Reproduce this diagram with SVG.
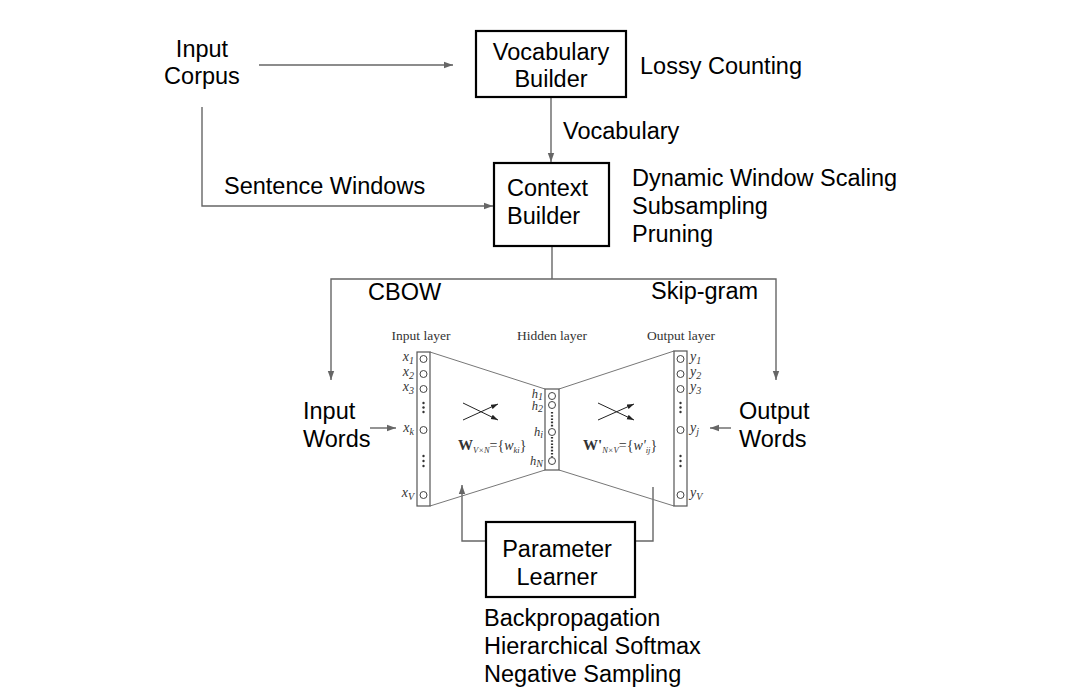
<svg xmlns="http://www.w3.org/2000/svg" width="1071" height="694" viewBox="0 0 1071 694">
<defs>
<marker id="ah" markerWidth="9" markerHeight="8" refX="9" refY="4" orient="auto" markerUnits="userSpaceOnUse"><path d="M0,0.8 L9,4 L0,7.2z" fill="#666"/></marker>
<marker id="ahs" markerWidth="7" markerHeight="6" refX="7" refY="3" orient="auto" markerUnits="userSpaceOnUse"><path d="M0,0.6 L7,3 L0,5.4z" fill="#222"/></marker>
<style>
.t{font-family:"Liberation Sans",Arial,sans-serif;font-size:23.5px;fill:#000}
.c{text-anchor:middle}
.box{fill:#fff;stroke:#000;stroke-width:2.2}
.con{fill:none;stroke:#666;stroke-width:1.4}
.nn{fill:none;stroke:#777;stroke-width:1}
.layer{fill:#fff;stroke:#555;stroke-width:1.2}
.nd{fill:#fff;stroke:#444;stroke-width:1}
.s{font-family:"Liberation Serif","Times New Roman",serif;fill:#333}
.lab{font-size:13.5px}
.v{font-size:14px;font-style:italic}
.hv{font-size:12.5px;font-style:italic}
.sub{font-size:10px}
.dot{fill:#333}
.cross{stroke:#222;stroke-width:1;fill:none}
</style>
</defs>
<rect width="1071" height="694" fill="#fff"/>

<g id="connectors">
<line class="con" x1="259" y1="65" x2="453" y2="65" marker-end="url(#ah)"/>
<line class="con" x1="551" y1="97" x2="551" y2="162" marker-end="url(#ah)"/>
<polyline class="con" points="202,107 202,206 493,206" marker-end="url(#ah)"/>
<line class="con" x1="552" y1="246" x2="552" y2="279"/>
<polyline class="con" points="552,279 331,279 331,380" marker-end="url(#ah)"/>
<polyline class="con" points="552,279 776,279 776,380" marker-end="url(#ah)"/>
<line class="con" x1="370" y1="428" x2="396" y2="428" marker-end="url(#ah)"/>
<line class="con" x1="731" y1="428" x2="710" y2="428" marker-end="url(#ah)"/>
<polyline class="con" points="486,541 462,541 462,485" marker-end="url(#ah)"/>
<polyline class="con" points="635,541 653,541 653,487"/>
</g>

<g id="input-corpus">
<text class="t c" x="202" y="57">Input</text>
<text class="t c" x="202" y="84">Corpus</text>
</g>

<g id="vocabulary-builder">
<rect class="box" x="476" y="31" width="150" height="66"/>
<text class="t c" x="551" y="60">Vocabulary</text>
<text class="t c" x="551" y="87">Builder</text>
</g>
<g id="lossy-counting"><text class="t" x="640" y="74">Lossy Counting</text></g>
<g id="vocabulary-label"><text class="t" x="563" y="139">Vocabulary</text></g>
<g id="sentence-windows-label"><text class="t" x="224" y="194">Sentence Windows</text></g>

<g id="context-builder">
<rect class="box" x="494" y="163" width="115" height="83"/>
<text class="t" x="507" y="196">Context</text>
<text class="t" x="507" y="224">Builder</text>
</g>
<g id="context-options">
<text class="t" x="632" y="186">Dynamic Window Scaling</text>
<text class="t" x="632" y="214">Subsampling</text>
<text class="t" x="632" y="242">Pruning</text>
</g>

<g id="cbow-label"><text class="t" x="368" y="300">CBOW</text></g>
<g id="skipgram-label"><text class="t" x="651" y="299">Skip-gram</text></g>

<g id="input-words">
<text class="t" x="303" y="419">Input</text>
<text class="t" x="303" y="447">Words</text>
</g>
<g id="output-words">
<text class="t" x="739" y="419">Output</text>
<text class="t" x="739" y="447">Words</text>
</g>

<g id="neural-network">
<polyline class="nn" points="430,352 545,389"/>
<polyline class="nn" points="430,506 545,470"/>
<polyline class="nn" points="559,389 674,351"/>
<polyline class="nn" points="559,470 674,506"/>

<text class="s lab c" x="421" y="340">Input layer</text>
<text class="s lab c" x="552" y="340">Hidden layer</text>
<text class="s lab c" x="681" y="340">Output layer</text>

<rect class="layer" x="417" y="352" width="13" height="154"/>
<circle class="nd" cx="423.5" cy="359" r="3.5"/>
<circle class="nd" cx="423.5" cy="374" r="3.5"/>
<circle class="nd" cx="423.5" cy="389" r="3.5"/>
<circle class="nd" cx="423.5" cy="430" r="3.5"/>
<circle class="nd" cx="423.5" cy="495" r="3.5"/>
<g class="dot"><circle cx="423.5" cy="403" r="1.2"/><circle cx="423.5" cy="407.5" r="1.2"/><circle cx="423.5" cy="412" r="1.2"/>
<circle cx="423.5" cy="456" r="1.2"/><circle cx="423.5" cy="461" r="1.2"/><circle cx="423.5" cy="466" r="1.2"/></g>
<g class="s v" text-anchor="end">
<text x="414" y="361">x<tspan class="sub" dy="2.5">1</tspan></text>
<text x="414" y="376">x<tspan class="sub" dy="2.5">2</tspan></text>
<text x="414" y="391">x<tspan class="sub" dy="2.5">3</tspan></text>
<text x="414" y="432">x<tspan class="sub" dy="2.5">k</tspan></text>
<text x="414" y="497">x<tspan class="sub" dy="2.5">V</tspan></text>
</g>

<rect class="layer" x="545" y="389" width="14" height="81"/>
<circle class="nd" cx="552" cy="396" r="3.5"/>
<circle class="nd" cx="552" cy="405" r="3.5"/>
<circle class="nd" cx="552" cy="432" r="3.5"/>
<circle class="nd" cx="552" cy="461" r="3.5"/>
<line x1="552" y1="412" x2="552" y2="428" stroke="#333" stroke-width="2.2" stroke-dasharray="1.6,1.6"/>
<line x1="552" y1="437" x2="552" y2="457" stroke="#333" stroke-width="2.2" stroke-dasharray="1.6,1.6"/>
<g class="s hv" text-anchor="end">
<text x="543" y="398">h<tspan class="sub" dy="1.5">1</tspan></text>
<text x="543" y="410">h<tspan class="sub" dy="1.5">2</tspan></text>
<text x="543" y="436">h<tspan class="sub" dy="2">i</tspan></text>
<text x="543" y="465">h<tspan class="sub" dy="2">N</tspan></text>
</g>

<rect class="layer" x="674" y="351" width="13" height="155"/>
<circle class="nd" cx="680.5" cy="359" r="3.5"/>
<circle class="nd" cx="680.5" cy="374" r="3.5"/>
<circle class="nd" cx="680.5" cy="389" r="3.5"/>
<circle class="nd" cx="680.5" cy="430" r="3.5"/>
<circle class="nd" cx="680.5" cy="495" r="3.5"/>
<g class="dot"><circle cx="680.5" cy="403" r="1.2"/><circle cx="680.5" cy="407.5" r="1.2"/><circle cx="680.5" cy="412" r="1.2"/>
<circle cx="680.5" cy="456" r="1.2"/><circle cx="680.5" cy="461" r="1.2"/><circle cx="680.5" cy="466" r="1.2"/></g>
<g class="s v">
<text x="690" y="361">y<tspan class="sub" dy="2.5">1</tspan></text>
<text x="690" y="376">y<tspan class="sub" dy="2.5">2</tspan></text>
<text x="690" y="391">y<tspan class="sub" dy="2.5">3</tspan></text>
<text x="690" y="432">y<tspan class="sub" dy="2.5">j</tspan></text>
<text x="690" y="497">y<tspan class="sub" dy="2.5">V</tspan></text>
</g>

<line class="cross" x1="463" y1="403" x2="498" y2="420" marker-end="url(#ahs)"/>
<line class="cross" x1="463" y1="420" x2="498" y2="404" marker-end="url(#ahs)"/>
<line class="cross" x1="598" y1="403" x2="634" y2="420" marker-end="url(#ahs)"/>
<line class="cross" x1="598" y1="420" x2="634" y2="404" marker-end="url(#ahs)"/>

<text class="s" x="458" y="450" font-size="14px"><tspan font-weight="bold" font-size="15px">W</tspan><tspan font-size="8.5px" font-style="italic" dy="3">V×N</tspan><tspan dy="-3">={</tspan><tspan font-style="italic">w</tspan><tspan font-size="8.5px" font-style="italic" dy="3">ki</tspan><tspan dy="-3">}</tspan></text>
<text class="s" x="583" y="450" font-size="14px"><tspan font-weight="bold" font-size="15px">W'</tspan><tspan font-size="8.5px" font-style="italic" dy="3">N×V</tspan><tspan dy="-3">={</tspan><tspan font-style="italic">w'</tspan><tspan font-size="8.5px" font-style="italic" dy="3">ij</tspan><tspan dy="-3">}</tspan></text>
</g>

<g id="parameter-learner">
<rect class="box" x="486" y="522" width="149" height="75"/>
<text class="t c" x="557" y="557">Parameter</text>
<text class="t c" x="557" y="585">Learner</text>
</g>
<g id="learner-options">
<text class="t" x="484" y="626">Backpropagation</text>
<text class="t" x="484" y="654">Hierarchical Softmax</text>
<text class="t" x="484" y="682">Negative Sampling</text>
</g>
</svg>
